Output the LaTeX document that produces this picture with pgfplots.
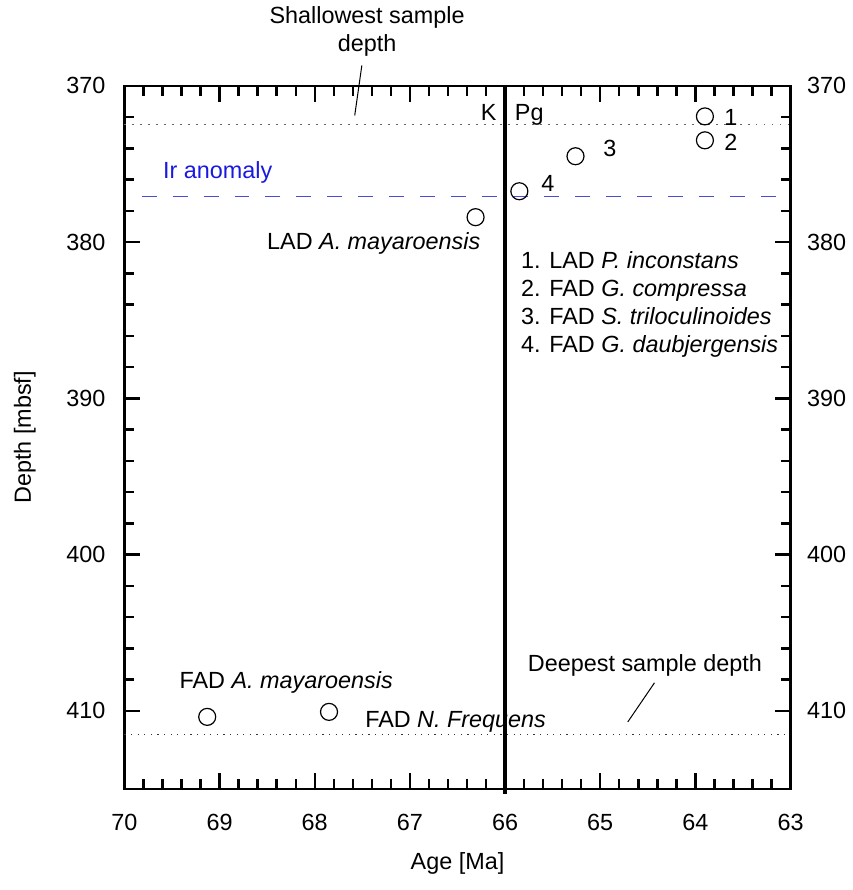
\documentclass[border=0pt]{standalone}
\usepackage{fontspec}
\setmainfont{Liberation Sans}
\usepackage{pgfplots}
\pgfplotsset{compat=1.18}
\definecolor{irblue}{RGB}{75,75,215}
\definecolor{irtext}{RGB}{25,25,225}
\pgfplotsset{
  mystyle/.style={
    scale only axis, width=333.25pt, height=351.75pt,
    xmin=63, xmax=70, x dir=reverse,
    ymin=370, ymax=415, y dir=reverse,
    xtick={63,64,...,70}, ytick={370,380,...,410},
    minor x tick num=4, minor y tick num=4,
    tick align=inside,
    major tick length=8pt, minor tick length=5pt,
    tick style={black, line width=1.2pt},
    axis line style={line width=1.3pt},
    font=\fontsize{11.7}{14}\selectfont,
    /pgf/number format/assume math mode=true,
    clip=false,
  }
}
\begin{document}
\begin{tikzpicture}
\begin{axis}[mystyle, name=main,
  xticklabel style={yshift=-9pt},
  yticklabel style={xshift=-6pt},
  xlabel={Age [Ma]}, ylabel={Depth [mbsf]},
  xlabel shift=4pt, ylabel shift=8.5pt,
]
% reference lines
\addplot[black!60, line width=0.7pt, dash pattern=on 0.7pt off 3.3pt] coordinates {(70,372.46) (63,372.46)};
\addplot[black!80, line width=0.6pt, dash pattern=on 0.6pt off 2.7pt] coordinates {(70,411.5) (63,411.5)};
\addplot[irblue, line width=0.6pt, dash pattern=on 7.5pt off 8pt] coordinates {(69.82,377.1) (63.09,377.1)};
\addplot[black, line width=2pt] coordinates {(66,370) (66,415.3)};
% leader lines
\addplot[black, line width=0.5pt] coordinates {(67.505,368.69) (67.58,371.89)};
\addplot[black, line width=0.5pt] coordinates {(64.43,408.2) (64.71,410.7)};
% datums
\addplot[only marks, mark=o, mark size=4.25pt, mark options={line width=0.6pt, black}] coordinates {
  (63.90,371.95) (63.90,373.48) (65.26,374.5) (65.85,376.74) (66.31,378.4)
  (69.13,410.38) (67.85,410.06)};
% text
\node[align=center, font=\fontsize{11.7}{14}\selectfont] at (axis cs:67.45,366.52) {Shallowest sample\\depth};
\node[inner sep=0pt, anchor=base east] at (axis cs:66.087,372.2) {K};
\node[inner sep=0pt, anchor=base west] at (axis cs:65.90,372.2) {Pg};
\node[text=irtext] at (axis cs:69.02,375.53) {Ir anomaly};
\node at (axis cs:67.38,380.07) {LAD \textit{A. mayaroensis}};
\node[inner sep=0pt, anchor=base west] at (axis cs:65.835,381.67) {1. LAD \textit{P. inconstans}};
\node[inner sep=0pt, anchor=base west] at (axis cs:65.835,383.46) {2. FAD \textit{G. compressa}};
\node[inner sep=0pt, anchor=base west] at (axis cs:65.835,385.25) {3. FAD \textit{S. triloculinoides}};
\node[inner sep=0pt, anchor=base west] at (axis cs:65.835,387.04) {4. FAD \textit{G. daubjergensis}};
\node[inner sep=0pt, anchor=west] at (axis cs:63.70,372.01) {1};
\node[inner sep=0pt, anchor=west] at (axis cs:63.70,373.61) {2};
\node at (axis cs:64.90,374.0) {3};
\node at (axis cs:65.55,376.23) {4};
\node at (axis cs:68.30,408.2) {FAD \textit{A. mayaroensis}};
\node at (axis cs:66.52,410.7) {FAD \textit{N. Frequens}};
\node at (axis cs:64.53,407.06) {Deepest sample depth};
\end{axis}
\begin{axis}[mystyle, hide x axis, axis y line*=right, yticklabel pos=right,
  yticklabel style={xshift=4.7pt}]
\end{axis}
\path ([xshift=-62.25pt,yshift=-50.5pt]main.south west) rectangle ([xshift=31pt,yshift=42.75pt]main.north east);
\end{tikzpicture}
\end{document}
